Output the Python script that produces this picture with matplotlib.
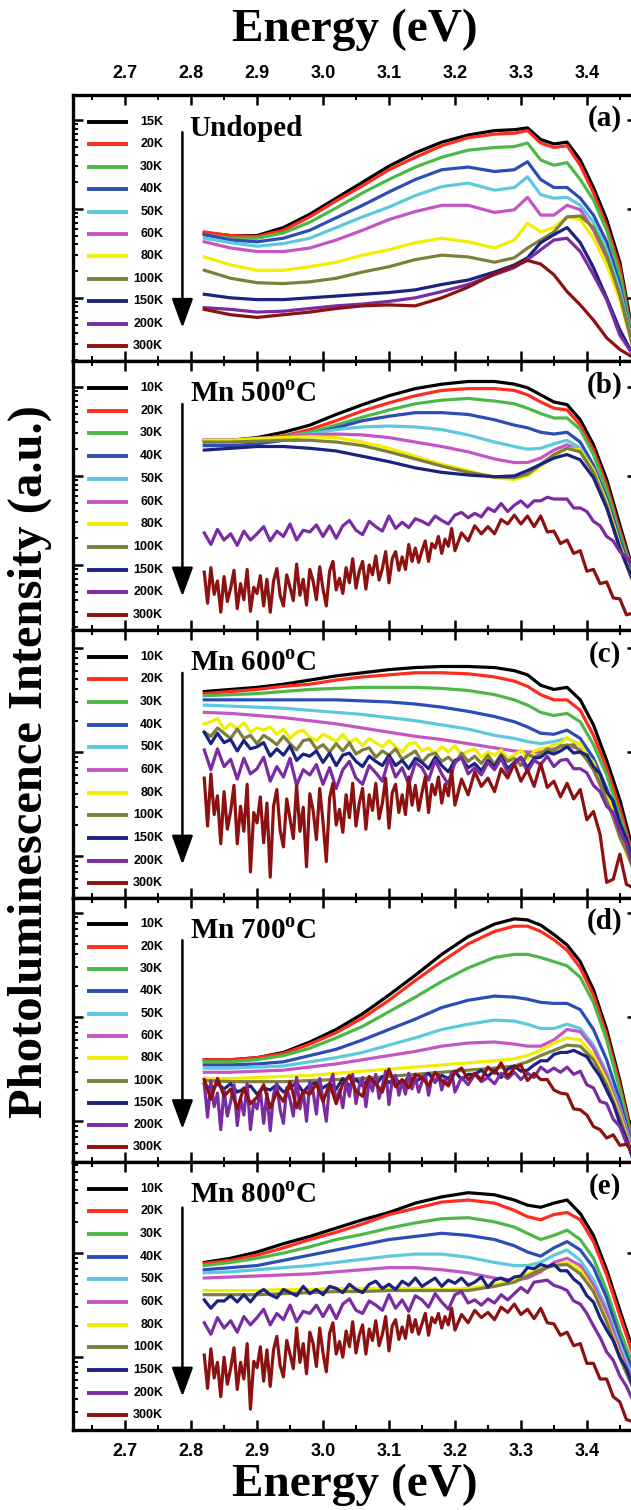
import matplotlib
matplotlib.use("Agg")
import numpy as np
import matplotlib.pyplot as plt
from matplotlib.ticker import MultipleLocator, LogLocator, NullFormatter, FormatStrFormatter

plt.rcParams["font.family"] = "Liberation Sans"
plt.rcParams["font.weight"] = "bold"
plt.rcParams["mathtext.fontset"] = "custom"
plt.rcParams["mathtext.rm"] = "Liberation Serif:bold"
plt.rcParams["mathtext.bf"] = "Liberation Serif:bold"

SERIF = "Liberation Serif"

# ---------------- spectra: log10 of PL intensity (arb. units) ----------------
energy = [2.82, 2.86, 2.90, 2.94, 2.98, 3.02, 3.06, 3.10, 3.14, 3.18, 3.22,
          3.26, 3.29, 3.31, 3.33, 3.35, 3.37, 3.39, 3.41, 3.43, 3.45, 3.47]

energy_fine = [2.82, 2.83, 2.84, 2.85, 2.86, 2.87, 2.88, 2.89, 2.90, 2.91, 2.92,
               2.93, 2.94, 2.95, 2.96, 2.97, 2.98, 2.99, 3.00, 3.01, 3.02, 3.03,
               3.04, 3.05, 3.06, 3.07, 3.08, 3.09, 3.10, 3.11, 3.12, 3.13, 3.14,
               3.15, 3.16, 3.17, 3.18, 3.19, 3.20, 3.21, 3.22, 3.23, 3.24, 3.25,
               3.26, 3.27, 3.28, 3.29, 3.30, 3.31, 3.32, 3.33, 3.34, 3.35, 3.36,
               3.37, 3.38, 3.39, 3.40, 3.41, 3.42, 3.43, 3.44, 3.45, 3.46, 3.47]

# 5 meV steps over the noisy low-energy side, 10 meV above 3.2 eV
energy_dense = [2.820, 2.825, 2.830, 2.835, 2.840, 2.845, 2.850, 2.855, 2.860, 2.865, 2.870,
                2.875, 2.880, 2.885, 2.890, 2.895, 2.900, 2.905, 2.910, 2.915, 2.920, 2.925,
                2.930, 2.935, 2.940, 2.945, 2.950, 2.955, 2.960, 2.965, 2.970, 2.975, 2.980,
                2.985, 2.990, 2.995, 3.000, 3.005, 3.010, 3.015, 3.020, 3.025, 3.030, 3.035,
                3.040, 3.045, 3.050, 3.055, 3.060, 3.065, 3.070, 3.075, 3.080, 3.085, 3.090,
                3.095, 3.100, 3.105, 3.110, 3.115, 3.120, 3.125, 3.130, 3.135, 3.140, 3.145,
                3.150, 3.155, 3.160, 3.165, 3.170, 3.175, 3.180, 3.185, 3.190, 3.195, 3.200,
                3.21, 3.22, 3.23, 3.24, 3.25, 3.26, 3.27, 3.28, 3.29, 3.30, 3.31, 3.32, 3.33,
                3.34, 3.35, 3.36, 3.37, 3.38, 3.39, 3.40, 3.41, 3.42, 3.43, 3.44, 3.45, 3.46, 3.47]

temps_undoped = ["15K", "20K", "30K", "40K", "50K", "60K", "80K", "100K", "150K", "200K", "300K"]
temps_doped = ["10K", "20K", "30K", "40K", "50K", "60K", "80K", "100K", "150K", "200K", "300K"]

line_colors = ["#000000", "#ff2b1c", "#4db848", "#2b4db5", "#5cc9dd", "#c456c4",
               "#f2ee00", "#7f7f3c", "#1c2280", "#7b2ca3", "#8c1111"]

# (a) undoped ZnO
undoped_logI = [
    [1.73, 1.70, 1.70, 1.79, 1.94, 2.12, 2.30, 2.48, 2.63, 2.75, 2.83, 2.88, 2.89, 2.91, 2.78, 2.73, 2.75, 2.55, 2.24, 1.88, 1.40, 0.58],
    [1.74, 1.70, 1.69, 1.76, 1.91, 2.09, 2.26, 2.44, 2.58, 2.71, 2.80, 2.84, 2.85, 2.88, 2.74, 2.69, 2.71, 2.49, 2.18, 1.81, 1.34, 0.53],
    [1.71, 1.67, 1.67, 1.73, 1.85, 2.01, 2.18, 2.33, 2.47, 2.58, 2.66, 2.69, 2.70, 2.74, 2.55, 2.49, 2.52, 2.33, 2.10, 1.76, 1.26, 0.53],
    [1.71, 1.65, 1.63, 1.67, 1.76, 1.90, 2.04, 2.19, 2.33, 2.44, 2.47, 2.42, 2.44, 2.53, 2.33, 2.24, 2.24, 2.12, 1.93, 1.63, 1.15, 0.47],
    [1.67, 1.62, 1.58, 1.61, 1.67, 1.79, 1.91, 2.02, 2.15, 2.25, 2.29, 2.21, 2.24, 2.36, 2.16, 2.12, 2.13, 2.04, 1.85, 1.54, 1.09, 0.47],
    [1.63, 1.56, 1.52, 1.52, 1.56, 1.65, 1.76, 1.88, 1.97, 2.04, 2.04, 1.96, 1.99, 2.13, 1.93, 1.93, 2.04, 1.99, 1.76, 1.45, 1.03, 0.47],
    [1.46, 1.37, 1.31, 1.31, 1.35, 1.40, 1.48, 1.54, 1.62, 1.67, 1.63, 1.56, 1.65, 1.84, 1.74, 1.79, 1.91, 1.88, 1.67, 1.37, 0.98, 0.44],
    [1.31, 1.22, 1.17, 1.16, 1.18, 1.22, 1.29, 1.35, 1.43, 1.48, 1.46, 1.40, 1.45, 1.56, 1.65, 1.74, 1.91, 1.92, 1.79, 1.48, 1.03, 0.44],
    [1.04, 1.00, 0.98, 0.98, 1.00, 1.02, 1.04, 1.06, 1.09, 1.15, 1.20, 1.29, 1.37, 1.45, 1.62, 1.71, 1.79, 1.62, 1.34, 1.00, 0.64, 0.36],
    [0.89, 0.87, 0.84, 0.85, 0.88, 0.91, 0.93, 0.96, 1.00, 1.07, 1.15, 1.26, 1.34, 1.43, 1.54, 1.65, 1.67, 1.52, 1.26, 0.98, 0.58, 0.36],
    [0.87, 0.81, 0.78, 0.81, 0.84, 0.88, 0.91, 0.92, 0.91, 1.00, 1.12, 1.27, 1.36, 1.42, 1.38, 1.26, 1.07, 0.92, 0.75, 0.55, 0.42, 0.33],
]

# (b) Mn 500 C, 10K-150K
mn500_logI = [
    [2.40, 2.40, 2.43, 2.49, 2.57, 2.69, 2.80, 2.90, 2.98, 3.03, 3.06, 3.06, 3.03, 2.99, 2.91, 2.83, 2.80, 2.63, 2.35, 1.96, 1.45, 0.94],
    [2.39, 2.39, 2.40, 2.45, 2.52, 2.62, 2.73, 2.82, 2.90, 2.96, 2.98, 2.98, 2.96, 2.91, 2.83, 2.76, 2.74, 2.57, 2.29, 1.90, 1.39, 0.92],
    [2.39, 2.39, 2.40, 2.44, 2.49, 2.57, 2.66, 2.74, 2.81, 2.85, 2.87, 2.84, 2.81, 2.76, 2.70, 2.65, 2.65, 2.52, 2.24, 1.84, 1.34, 0.89],
    [2.34, 2.34, 2.36, 2.40, 2.46, 2.54, 2.62, 2.67, 2.71, 2.71, 2.69, 2.63, 2.57, 2.54, 2.49, 2.47, 2.49, 2.38, 2.12, 1.75, 1.28, 0.85],
    [2.38, 2.38, 2.39, 2.43, 2.47, 2.52, 2.55, 2.56, 2.55, 2.52, 2.46, 2.38, 2.33, 2.30, 2.31, 2.36, 2.40, 2.31, 2.07, 1.71, 1.22, 0.83],
    [2.40, 2.40, 2.42, 2.44, 2.46, 2.47, 2.46, 2.43, 2.38, 2.33, 2.27, 2.19, 2.15, 2.15, 2.20, 2.29, 2.35, 2.27, 2.04, 1.67, 1.19, 0.81],
    [2.40, 2.40, 2.42, 2.43, 2.44, 2.43, 2.38, 2.31, 2.22, 2.13, 2.06, 1.98, 1.96, 2.00, 2.11, 2.22, 2.31, 2.29, 2.07, 1.70, 1.22, 0.83],
    [2.38, 2.38, 2.39, 2.40, 2.40, 2.38, 2.34, 2.27, 2.19, 2.11, 2.04, 1.99, 1.98, 2.02, 2.13, 2.24, 2.31, 2.27, 2.04, 1.67, 1.19, 0.81],
    [2.29, 2.31, 2.33, 2.33, 2.31, 2.28, 2.22, 2.16, 2.09, 2.04, 2.01, 1.99, 2.00, 2.06, 2.13, 2.20, 2.24, 2.18, 1.98, 1.64, 1.19, 0.83],
]
mn500_logI_200K = [
    1.36, 1.23, 1.40, 1.28, 1.35, 1.22, 1.38, 1.28, 1.35, 1.43, 1.27, 1.38, 1.32, 1.46, 1.28, 1.39, 1.37, 1.45, 1.32, 1.44, 1.30, 1.44,
    1.50, 1.39, 1.34, 1.49, 1.43, 1.38, 1.55, 1.41, 1.48, 1.42, 1.52, 1.49, 1.45, 1.55, 1.50, 1.46, 1.56, 1.59, 1.53, 1.58, 1.54, 1.64,
    1.60, 1.69, 1.60, 1.67, 1.72, 1.65, 1.72, 1.72, 1.76, 1.74, 1.74, 1.74, 1.64, 1.64, 1.60, 1.49, 1.44, 1.32, 1.27, 1.15, 1.09, 0.98]
mn500_logI_300K = [
    0.92, 0.57, 0.97, 0.67, 0.82, 0.47, 0.87, 0.59, 0.74, 0.94, 0.51, 0.79, 0.61, 0.95, 0.48, 0.75, 0.68, 0.88, 0.54, 0.84,
    0.47, 0.82, 0.96, 0.66, 0.54, 0.89, 0.75, 0.60, 1.01, 0.66, 0.84, 0.55, 0.95, 0.82, 0.61, 0.98, 0.73, 0.54, 0.93, 1.04,
    0.72, 0.85, 0.68, 0.97, 0.80, 1.07, 0.74, 0.93, 1.04, 0.73, 1.00, 0.89, 1.10, 0.83, 0.96, 1.15, 0.80, 1.07, 1.15, 0.94,
    1.09, 0.95, 1.23, 1.04, 1.19, 1.03, 1.16, 1.27, 1.04, 1.24, 1.19, 1.32, 1.13, 1.29, 1.21, 1.41, 1.16,
    1.36, 1.27, 1.44, 1.35, 1.43, 1.35, 1.51, 1.46, 1.56, 1.46, 1.55, 1.43, 1.55, 1.37, 1.38, 1.24, 1.28, 1.13, 1.16, 0.93,
    0.95, 0.79, 0.81, 0.63, 0.62, 0.44, 0.46]

# (c) Mn 600 C, 10K-60K
mn600_logI = [
    [2.58, 2.60, 2.62, 2.65, 2.69, 2.73, 2.76, 2.79, 2.81, 2.82, 2.82, 2.81, 2.78, 2.74, 2.64, 2.60, 2.62, 2.50, 2.26, 1.92, 1.54, 1.06],
    [2.56, 2.58, 2.60, 2.63, 2.65, 2.69, 2.72, 2.74, 2.76, 2.76, 2.75, 2.72, 2.68, 2.63, 2.55, 2.50, 2.50, 2.40, 2.16, 1.85, 1.46, 1.01],
    [2.54, 2.55, 2.56, 2.58, 2.60, 2.61, 2.62, 2.62, 2.62, 2.61, 2.59, 2.55, 2.50, 2.45, 2.38, 2.35, 2.37, 2.29, 2.07, 1.78, 1.39, 0.98],
    [2.50, 2.50, 2.50, 2.50, 2.50, 2.50, 2.49, 2.48, 2.46, 2.43, 2.39, 2.34, 2.29, 2.24, 2.18, 2.17, 2.21, 2.13, 1.94, 1.65, 1.30, 0.94],
    [2.45, 2.44, 2.43, 2.42, 2.40, 2.38, 2.36, 2.33, 2.30, 2.26, 2.22, 2.16, 2.13, 2.10, 2.08, 2.10, 2.13, 2.07, 1.88, 1.59, 1.25, 0.91],
    [2.38, 2.37, 2.35, 2.33, 2.30, 2.27, 2.23, 2.19, 2.15, 2.12, 2.08, 2.04, 2.01, 2.00, 2.00, 2.03, 2.07, 2.02, 1.83, 1.54, 1.20, 0.88],
]
mn600_logI_80K = [
    2.27, 2.29, 2.32, 2.22, 2.27, 2.22, 2.28, 2.19, 2.23, 2.21, 2.24, 2.17, 2.22, 2.13, 2.19, 2.21, 2.14, 2.11, 2.17, 2.14, 2.10, 2.17,
    2.09, 2.13, 2.06, 2.13, 2.09, 2.05, 2.11, 2.05, 2.00, 2.08, 2.09, 2.01, 2.04, 1.98, 2.05, 2.00, 2.06, 1.97, 2.01, 2.03, 1.95, 2.00,
    1.97, 2.02, 1.94, 1.97, 2.02, 1.93, 2.01, 2.03, 2.04, 2.07, 2.08, 2.14, 2.09, 2.08, 1.97, 1.90, 1.73, 1.61, 1.41, 1.24, 1.03, 0.89]
mn600_logI_100K = [
    2.19, 2.15, 2.23, 2.18, 2.13, 2.22, 2.13, 2.16, 2.08, 2.16, 2.12, 2.07, 2.15, 2.08, 2.02, 2.11, 2.12, 2.03, 2.07, 2.00, 2.08, 2.01,
    2.09, 1.98, 2.02, 2.04, 1.95, 2.01, 1.97, 2.03, 1.93, 1.97, 2.01, 1.90, 1.97, 1.99, 1.91, 1.95, 1.89, 1.99, 1.91, 1.96, 1.89, 1.97,
    1.88, 1.98, 1.91, 1.94, 1.87, 1.98, 1.95, 1.98, 2.03, 2.01, 2.06, 2.06, 2.07, 2.00, 1.93, 1.83, 1.70, 1.53, 1.38, 1.18, 1.05, 0.89]
mn600_logI_150K = [
    2.19, 2.08, 2.18, 2.09, 2.12, 2.01, 2.11, 2.03, 2.05, 2.09, 1.96, 2.03, 1.97, 2.06, 1.92, 1.98, 1.96, 2.01, 1.90, 1.99, 1.87, 1.97,
    1.99, 1.91, 1.86, 1.96, 1.91, 1.87, 1.97, 1.87, 1.92, 1.84, 1.94, 1.90, 1.84, 1.95, 1.87, 1.81, 1.92, 1.94, 1.85, 1.89, 1.82, 1.92,
    1.86, 1.96, 1.84, 1.90, 1.95, 1.85, 1.94, 1.95, 2.00, 1.98, 2.01, 2.05, 1.99, 2.00, 1.97, 1.86, 1.79, 1.62, 1.53, 1.32, 1.17, 0.94]
mn600_logI_200K = [
    2.02, 1.83, 2.03, 1.86, 1.93, 1.74, 1.94, 1.79, 1.84, 1.95, 1.72, 1.86, 1.76, 1.94, 1.68, 1.83, 1.78, 1.88, 1.69, 1.85, 1.65, 1.83,
    1.91, 1.75, 1.69, 1.87, 1.80, 1.72, 1.94, 1.76, 1.85, 1.69, 1.90, 1.85, 1.73, 1.92, 1.79, 1.69, 1.90, 1.95, 1.79, 1.85, 1.78, 1.90,
    1.83, 1.94, 1.80, 1.89, 1.94, 1.81, 1.92, 1.88, 1.96, 1.86, 1.92, 1.93, 1.84, 1.84, 1.80, 1.68, 1.62, 1.48, 1.42, 1.24, 1.12, 0.90]
mn600_logI_300K = [
    1.75, 1.29, 1.79, 1.40, 1.58, 1.12, 1.62, 1.26, 1.43, 1.68, 1.12, 1.48, 1.24, 1.69, 0.85, 1.42, 1.32, 1.57, 1.13, 1.51,
    0.80, 1.48, 1.64, 1.25, 1.09, 1.55, 1.36, 1.17, 1.68, 1.24, 1.47, 0.90, 1.60, 1.44, 1.16, 1.65, 1.33, 0.95, 1.56, 1.70,
    1.30, 1.45, 1.23, 1.59, 1.37, 1.70, 1.29, 1.51, 1.65, 1.26, 1.59, 1.44, 1.70, 1.36, 1.51, 1.75, 1.27, 1.61, 1.69, 1.42,
    1.59, 1.40, 1.76, 1.49, 1.68, 1.44, 1.61, 1.76, 1.42, 1.69, 1.59, 1.76, 1.51, 1.69, 1.58, 1.82, 1.49,
    1.74, 1.59, 1.81, 1.67, 1.75, 1.62, 1.84, 1.75, 1.89, 1.72, 1.83, 1.67, 1.89, 1.66, 1.72, 1.57, 1.70, 1.55, 1.64, 1.35,
    1.43, 1.21, 0.75, 0.78, 1.02, 0.73, 0.70]

# (d) Mn 700 C, 10K-100K
mn700_logI = [
    [1.59, 1.59, 1.61, 1.66, 1.76, 1.88, 2.03, 2.21, 2.40, 2.60, 2.77, 2.89, 2.94, 2.93, 2.88, 2.79, 2.69, 2.53, 2.26, 1.88, 1.39, 0.82],
    [1.59, 1.59, 1.61, 1.65, 1.74, 1.85, 1.99, 2.16, 2.35, 2.53, 2.70, 2.82, 2.87, 2.87, 2.82, 2.74, 2.64, 2.47, 2.21, 1.83, 1.35, 0.80],
    [1.57, 1.57, 1.59, 1.63, 1.70, 1.80, 1.91, 2.05, 2.19, 2.34, 2.47, 2.57, 2.60, 2.60, 2.57, 2.53, 2.49, 2.38, 2.14, 1.78, 1.30, 0.77],
    [1.54, 1.54, 1.55, 1.57, 1.63, 1.69, 1.78, 1.88, 1.98, 2.09, 2.16, 2.20, 2.19, 2.17, 2.14, 2.13, 2.13, 2.07, 1.88, 1.59, 1.20, 0.74],
    [1.51, 1.51, 1.52, 1.53, 1.57, 1.61, 1.66, 1.73, 1.80, 1.88, 1.93, 1.97, 1.96, 1.93, 1.89, 1.89, 1.93, 1.89, 1.73, 1.47, 1.13, 0.72],
    [1.47, 1.47, 1.48, 1.49, 1.52, 1.55, 1.59, 1.63, 1.67, 1.72, 1.75, 1.76, 1.74, 1.72, 1.72, 1.78, 1.88, 1.86, 1.70, 1.44, 1.11, 0.70],
    [1.41, 1.41, 1.42, 1.43, 1.44, 1.46, 1.48, 1.50, 1.52, 1.54, 1.56, 1.58, 1.60, 1.63, 1.68, 1.75, 1.80, 1.78, 1.63, 1.39, 1.06, 0.67],
    [1.39, 1.38, 1.38, 1.38, 1.39, 1.40, 1.41, 1.43, 1.45, 1.47, 1.49, 1.51, 1.53, 1.57, 1.63, 1.68, 1.73, 1.72, 1.59, 1.35, 1.03, 0.66],
]
mn700_logI_150K = [
    1.36, 1.30, 1.36, 1.31, 1.36, 1.28, 1.31, 1.34, 1.26, 1.32, 1.30, 1.35, 1.28, 1.32, 1.37, 1.28, 1.35, 1.37, 1.32, 1.36, 1.31, 1.41,
    1.34, 1.40, 1.34, 1.41, 1.35, 1.43, 1.37, 1.41, 1.34, 1.43, 1.38, 1.42, 1.46, 1.38, 1.44, 1.41, 1.48, 1.40, 1.45, 1.45, 1.49, 1.43,
    1.49, 1.42, 1.50, 1.53, 1.48, 1.49, 1.54, 1.58, 1.58, 1.64, 1.66, 1.66, 1.68, 1.65, 1.62, 1.52, 1.43, 1.30, 1.17, 0.98, 0.83, 0.63]
mn700_logI_200K = [
    1.36, 1.04, 1.39, 1.14, 1.27, 0.92, 1.30, 1.05, 1.19, 1.35, 0.96, 1.22, 1.06, 1.36, 0.92, 1.19, 1.12, 1.30, 0.98, 1.27,
    0.91, 1.26, 1.36, 1.11, 0.98, 1.32, 1.21, 1.05, 1.42, 1.12, 1.29, 1.00, 1.38, 1.28, 1.07, 1.41, 1.20, 1.00, 1.36, 1.45,
    1.17, 1.30, 1.13, 1.38, 1.24, 1.45, 1.17, 1.34, 1.42, 1.14, 1.39, 1.29, 1.45, 1.22, 1.34, 1.48, 1.16, 1.40, 1.44, 1.25,
    1.38, 1.26, 1.46, 1.31, 1.42, 1.28, 1.38, 1.45, 1.25, 1.42, 1.37, 1.45, 1.30, 1.41, 1.34, 1.47, 1.28,
    1.42, 1.35, 1.45, 1.38, 1.42, 1.36, 1.46, 1.41, 1.47, 1.40, 1.46, 1.42, 1.52, 1.47, 1.51, 1.47, 1.52, 1.45, 1.48, 1.35,
    1.32, 1.19, 1.17, 1.02, 0.95, 0.79, 0.73]
mn700_logI_300K = [
    1.40, 1.21, 1.41, 1.24, 1.31, 1.12, 1.32, 1.17, 1.23, 1.35, 1.13, 1.28, 1.19, 1.38, 1.13, 1.29, 1.26, 1.36, 1.19, 1.36, 1.17, 1.36,
    1.44, 1.29, 1.24, 1.43, 1.36, 1.28, 1.50, 1.33, 1.40, 1.32, 1.45, 1.42, 1.34, 1.47, 1.39, 1.34, 1.47, 1.51, 1.40, 1.46, 1.40, 1.52,
    1.46, 1.56, 1.43, 1.51, 1.54, 1.39, 1.46, 1.40, 1.40, 1.30, 1.27, 1.26, 1.12, 1.11, 1.06, 0.95, 0.92, 0.84, 0.87, 0.77, 0.78, 0.69]

# (e) Mn 800 C, 10K-100K
mn800_logI = [
    [1.91, 1.95, 2.01, 2.09, 2.16, 2.24, 2.32, 2.39, 2.48, 2.54, 2.58, 2.56, 2.51, 2.46, 2.44, 2.48, 2.51, 2.38, 2.17, 1.84, 1.45, 1.07],
    [1.90, 1.93, 1.98, 2.05, 2.13, 2.20, 2.28, 2.37, 2.43, 2.49, 2.51, 2.48, 2.41, 2.35, 2.32, 2.37, 2.39, 2.32, 2.11, 1.79, 1.40, 1.02],
    [1.88, 1.91, 1.95, 2.00, 2.06, 2.13, 2.18, 2.24, 2.29, 2.33, 2.34, 2.30, 2.25, 2.19, 2.13, 2.17, 2.22, 2.13, 1.95, 1.64, 1.26, 0.92],
    [1.84, 1.86, 1.88, 1.93, 1.98, 2.03, 2.08, 2.13, 2.16, 2.19, 2.17, 2.13, 2.07, 2.01, 1.97, 2.05, 2.11, 2.03, 1.86, 1.57, 1.18, 0.86],
    [1.81, 1.82, 1.84, 1.86, 1.88, 1.91, 1.94, 1.97, 1.99, 1.99, 1.96, 1.91, 1.88, 1.88, 1.91, 1.98, 2.03, 1.93, 1.74, 1.47, 1.12, 0.80],
    [1.76, 1.77, 1.78, 1.79, 1.80, 1.82, 1.84, 1.86, 1.86, 1.84, 1.81, 1.76, 1.74, 1.76, 1.82, 1.91, 1.95, 1.88, 1.69, 1.43, 1.07, 0.76],
    [1.64, 1.64, 1.64, 1.65, 1.65, 1.66, 1.66, 1.66, 1.66, 1.65, 1.66, 1.70, 1.74, 1.80, 1.85, 1.88, 1.91, 1.84, 1.64, 1.36, 1.02, 0.73],
    [1.60, 1.60, 1.60, 1.61, 1.62, 1.63, 1.63, 1.64, 1.64, 1.64, 1.64, 1.68, 1.72, 1.78, 1.84, 1.88, 1.89, 1.80, 1.63, 1.34, 0.99, 0.70],
]
mn800_logI_150K = [
    1.55, 1.47, 1.54, 1.54, 1.59, 1.53, 1.60, 1.53, 1.61, 1.65, 1.60, 1.57, 1.65, 1.62, 1.59, 1.68, 1.61, 1.65, 1.60, 1.68, 1.66, 1.62,
    1.70, 1.65, 1.62, 1.70, 1.73, 1.66, 1.70, 1.65, 1.73, 1.69, 1.76, 1.68, 1.72, 1.76, 1.68, 1.74, 1.71, 1.76, 1.69, 1.72, 1.77, 1.67,
    1.74, 1.76, 1.73, 1.77, 1.78, 1.86, 1.85, 1.89, 1.87, 1.89, 1.83, 1.83, 1.75, 1.70, 1.59, 1.53, 1.38, 1.26, 1.16, 1.00, 0.89, 0.72]
mn800_logI_200K = [
    1.33, 1.22, 1.38, 1.28, 1.35, 1.24, 1.39, 1.31, 1.38, 1.46, 1.31, 1.42, 1.36, 1.50, 1.34, 1.44, 1.42, 1.50, 1.39, 1.50, 1.37, 1.51,
    1.56, 1.45, 1.42, 1.54, 1.50, 1.45, 1.60, 1.47, 1.55, 1.44, 1.59, 1.55, 1.48, 1.61, 1.53, 1.46, 1.60, 1.63, 1.52, 1.55, 1.50, 1.56,
    1.52, 1.60, 1.55, 1.61, 1.67, 1.62, 1.72, 1.73, 1.74, 1.69, 1.67, 1.64, 1.54, 1.51, 1.42, 1.30, 1.19, 1.05, 0.97, 0.82, 0.72, 0.58]
mn800_logI_300K = [
    1.02, 0.70, 1.08, 0.80, 0.95, 0.62, 1.00, 0.74, 0.89, 1.09, 0.69, 0.95, 0.79, 1.13, 0.50, 0.96, 0.90, 1.10, 0.77, 1.07,
    0.72, 1.07, 1.20, 0.92, 0.81, 1.16, 1.03, 0.89, 1.28, 0.95, 1.13, 0.84, 1.24, 1.13, 0.91, 1.28, 1.04, 0.86, 1.23, 1.33,
    1.03, 1.15, 1.00, 1.25, 1.10, 1.34, 1.04, 1.21, 1.31, 1.03, 1.27, 1.16, 1.35, 1.11, 1.22, 1.39, 1.06, 1.30, 1.36, 1.17,
    1.29, 1.18, 1.40, 1.24, 1.36, 1.22, 1.32, 1.42, 1.21, 1.38, 1.33, 1.42, 1.28, 1.39, 1.31, 1.47, 1.26,
    1.41, 1.33, 1.45, 1.38, 1.43, 1.36, 1.48, 1.43, 1.51, 1.41, 1.46, 1.37, 1.47, 1.33, 1.32, 1.21, 1.24, 1.11, 1.13, 0.94,
    0.94, 0.79, 0.79, 0.62, 0.57, 0.40, 0.38]


def spectra(coarse_rows, extra):
    rows = [(energy, r) for r in coarse_rows]
    rows += list(extra)
    return rows


panels = [
    ("Undoped", "(a)", temps_undoped, spectra(undoped_logI, []), (0.29, 3.28), 0.86),
    (r"Mn 500$^{\mathbf{o}}$C", "(b)", temps_doped,
     spectra(mn500_logI, [(energy_fine, mn500_logI_200K), (energy_dense, mn500_logI_300K)]),
     (0.27, 3.29), 0.84),
    (r"Mn 600$^{\mathbf{o}}$C", "(c)", temps_doped,
     spectra(mn600_logI, [(energy_fine, mn600_logI_80K), (energy_fine, mn600_logI_100K),
                          (energy_fine, mn600_logI_150K), (energy_fine, mn600_logI_200K),
                          (energy_dense, mn600_logI_300K)]),
     (0.60, 3.17), 0.84),
    (r"Mn 700$^{\mathbf{o}}$C", "(d)", temps_doped,
     spectra(mn700_logI, [(energy_fine, mn700_logI_150K), (energy_dense, mn700_logI_200K),
                          (energy_fine, mn700_logI_300K)]),
     (0.61, 3.14), 0.84),
    (r"Mn 800$^{\mathbf{o}}$C", "(e)", temps_doped,
     spectra(mn800_logI, [(energy_fine, mn800_logI_150K), (energy_fine, mn800_logI_200K),
                          (energy_dense, mn800_logI_300K)]),
     (0.30, 2.875), 0.83),
]

# ---------------- layout ----------------
W, H = 631, 1510
fig = plt.figure(figsize=(W / 100, H / 100), dpi=100)
fig.patch.set_facecolor("white")

edges = [95, 361, 630, 898, 1162, 1430]   # panel borders (px from top)
left_px, right_px = 73, 637

axes = []
for i in range(5):
    top, bot = edges[i], edges[i + 1]
    rect = [left_px / W, 1 - bot / H, (right_px - left_px) / W, (bot - top) / H]
    axes.append(fig.add_axes(rect))

for i, (ax, (title, tag, temps, rows, ylog, arrow_top)) in enumerate(zip(axes, panels)):
    for (x, logI), col in zip(rows, line_colors):
        ax.plot(x, 10 ** np.asarray(logI), color=col, lw=2.3, solid_joinstyle="round")

    ax.set_xlim(2.621, 3.476)
    ax.set_yscale("log")
    ax.set_ylim(10 ** ylog[0], 10 ** ylog[1])

    ax.xaxis.set_major_locator(MultipleLocator(0.1))
    ax.xaxis.set_minor_locator(MultipleLocator(0.05))
    ax.xaxis.set_major_formatter(FormatStrFormatter("%.1f"))
    ax.yaxis.set_major_locator(LogLocator(base=10, numticks=20))
    ax.yaxis.set_minor_locator(LogLocator(base=10, subs=np.arange(2, 10), numticks=20))
    ax.yaxis.set_major_formatter(NullFormatter())
    ax.yaxis.set_minor_formatter(NullFormatter())

    ax.tick_params(which="both", direction="in", top=True, right=True,
                   bottom=True, left=True, labelleft=False)
    ax.tick_params(which="major", length=7.5, width=1.8)
    ax.tick_params(which="minor", length=3.8, width=1.4)
    ax.tick_params(axis="x", labelsize=13, labeltop=(i == 0), labelbottom=(i == 4), pad=9)
    for sp in ax.spines.values():
        sp.set_linewidth(2.4)

    for lab in ax.get_xticklabels():
        lab.set_fontweight("bold")

    # temperature key
    y0, dy = 0.90, 0.0845
    for k, (lab, col) in enumerate(zip(temps, line_colors)):
        yy = y0 - k * dy
        ax.plot([0.025, 0.098], [yy, yy], transform=ax.transAxes, color=col,
                lw=2.8, solid_capstyle="butt")
        ax.text(0.160, yy, lab, transform=ax.transAxes, ha="right", va="center",
                fontsize=9, fontweight="bold")

    # decreasing-temperature arrow
    ax.annotate("", xy=(0.194, 0.125), xytext=(0.194, arrow_top),
                xycoords="axes fraction",
                arrowprops=dict(arrowstyle="-|>,head_length=0.9,head_width=0.33",
                                lw=1.8, color="black", mutation_scale=20,
                                shrinkA=0, shrinkB=0))

    ax.text(0.207, 0.875, title, transform=ax.transAxes, ha="left", va="center",
            family=SERIF, fontweight="bold", fontsize=21)
    ax.text(0.943, 0.91, tag, transform=ax.transAxes, ha="center", va="center",
            family=SERIF, fontweight="bold", fontsize=21)

fig.text(355 / W, 1 - 30 / H, "Energy (eV)", ha="center", va="center",
         family=SERIF, fontweight="bold", fontsize=34)
fig.text(355 / W, 1 - 1485 / H, "Energy (eV)", ha="center", va="center",
         family=SERIF, fontweight="bold", fontsize=34)
fig.text(30 / W, 1 - 762 / H, "Photoluminescence Intensity (a.u.)", rotation=90,
         ha="center", va="center", family=SERIF, fontweight="bold", fontsize=35)

fig.savefig("out.png", dpi=100, facecolor="white")
